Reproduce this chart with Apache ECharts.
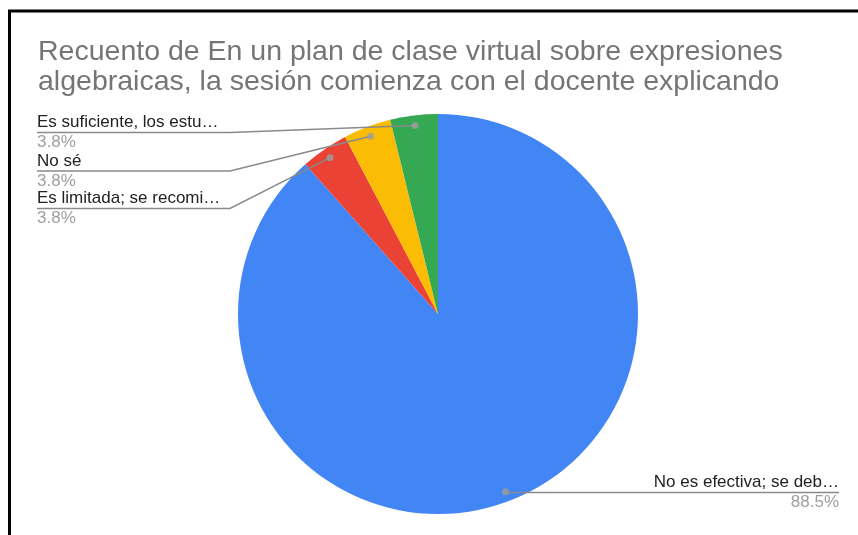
<!DOCTYPE html>
<html>
<head>
<meta charset="utf-8">
<script src="https://cdn.jsdelivr.net/npm/echarts@6/dist/echarts.min.js"></script>
<style>
  html, body { margin: 0; padding: 0; background: #fff; }
  #chart { width: 858px; height: 535px; }
</style>
</head>
<body>
<div id="chart"></div>
<script>
// ---- data ----
var categories = [
  'No es efectiva; se deb\u2026',
  'Es limitada; se recomi\u2026',
  'No s\u00e9',
  'Es suficiente, los estu\u2026'
];
var counts = [23, 1, 1, 1];
var titleLines = [
  'Recuento de En un plan de clase virtual sobre expresiones',
  'algebraicas, la sesi\u00f3n comienza con el docente explicando'
];

// ---- styles / layout ----
var colors = ['#4285F4', '#EA4335', '#FBBC04', '#34A853'];
var FONT = "'Liberation Sans', Arial, sans-serif";
var CX = 438, CY = 314, R = 200, DOT_R = 0.95;
// label anchor layout (underline y, text x, elbow x, align)
var labelLayouts = [
  { y: 492.5, x: 839, elbow: null, align: 'right' },
  { y: 208.5, x: 37, elbow: 230, align: 'left' },
  { y: 171,   x: 37, elbow: 230, align: 'left' },
  { y: 132.5, x: 37, elbow: 230, align: 'left' }
];

var total = counts.reduce(function (a, b) { return a + b; }, 0);
var mids = [];
var cum = 0;
counts.forEach(function (v) { mids.push(cum + v / 2); cum += v; });

function dotPoint(i) {
  var frac = mids[i] / total;
  var ang = (90 - 360 * frac) * Math.PI / 180;
  return [CX + R * DOT_R * Math.cos(ang), CY - R * DOT_R * Math.sin(ang)];
}

var pieData = categories.map(function (c, i) {
  return { name: c, value: counts[i], itemStyle: { color: colors[i] } };
});

var chart = echarts.init(document.getElementById('chart'), null, { renderer: 'canvas' });

chart.setOption({
  animation: false,
  backgroundColor: '#ffffff',
  title: {
    text: titleLines.join('\n'),
    left: 38,
    top: 37,
    padding: 0,
    textStyle: {
      fontFamily: FONT,
      fontSize: 28.5,
      fontWeight: 'normal',
      color: '#757575',
      lineHeight: 30
    }
  },
  graphic: [
    {
      type: 'rect',
      shape: { x: 9.5, y: 11, width: 1000, height: 1000 },
      style: { fill: 'none', stroke: '#000', lineWidth: 3 },
      silent: true,
      z: 100
    }
  ],
  polar: { center: [CX, CY], radius: R },
  angleAxis: { type: 'value', min: 0, max: total, startAngle: 90, clockwise: true, show: false },
  radiusAxis: { type: 'value', min: 0, max: 1, show: false },
  series: [
    {
      type: 'pie',
      center: [CX, CY],
      radius: R,
      startAngle: 90,
      clockwise: true,
      silent: true,
      z: 1,
      data: pieData,
      label: { show: false },
      labelLine: { show: false }
    },
    {
      type: 'pie',
      center: [CX, CY],
      radius: R,
      startAngle: 90,
      clockwise: true,
      avoidLabelOverlap: false,
      silent: true,
      z: 5,
      data: pieData.map(function (d) {
        return { name: d.name, value: d.value, itemStyle: { color: 'rgba(0,0,0,0)' } };
      }),
      label: {
        show: true,
        position: 'outside',
        fontFamily: FONT,
        formatter: function (p) {
          return '{n|' + p.name + '}\n{p|' + (counts[p.dataIndex] / total * 100).toFixed(1) + '%}';
        },
        rich: {
          n: { fontFamily: FONT, fontSize: 17, color: '#222222', lineHeight: 20 },
          p: { fontFamily: FONT, fontSize: 17, color: '#9e9e9e', lineHeight: 20 }
        }
      },
      labelLine: {
        show: true,
        lineStyle: { color: '#8a8a8a', width: 1.5 }
      },
      labelLayout: function (params) {
        var i = params.dataIndex;
        var L = labelLayouts[i];
        var d = dotPoint(i);
        var elbow = L.elbow == null ? [d[0] + 1, L.y] : [L.elbow, L.y];
        return {
          x: L.x,
          y: L.y,
          align: L.align,
          verticalAlign: 'middle',
          labelLinePoints: [d, elbow, [L.x, L.y]]
        };
      }
    },
    {
      type: 'scatter',
      coordinateSystem: 'polar',
      silent: true,
      symbol: 'circle',
      symbolSize: 7,
      itemStyle: { color: '#9e9e9e' },
      z: 10,
      data: mids.map(function (m) { return [DOT_R, m]; })
    }
  ]
});
</script>
</body>
</html>
